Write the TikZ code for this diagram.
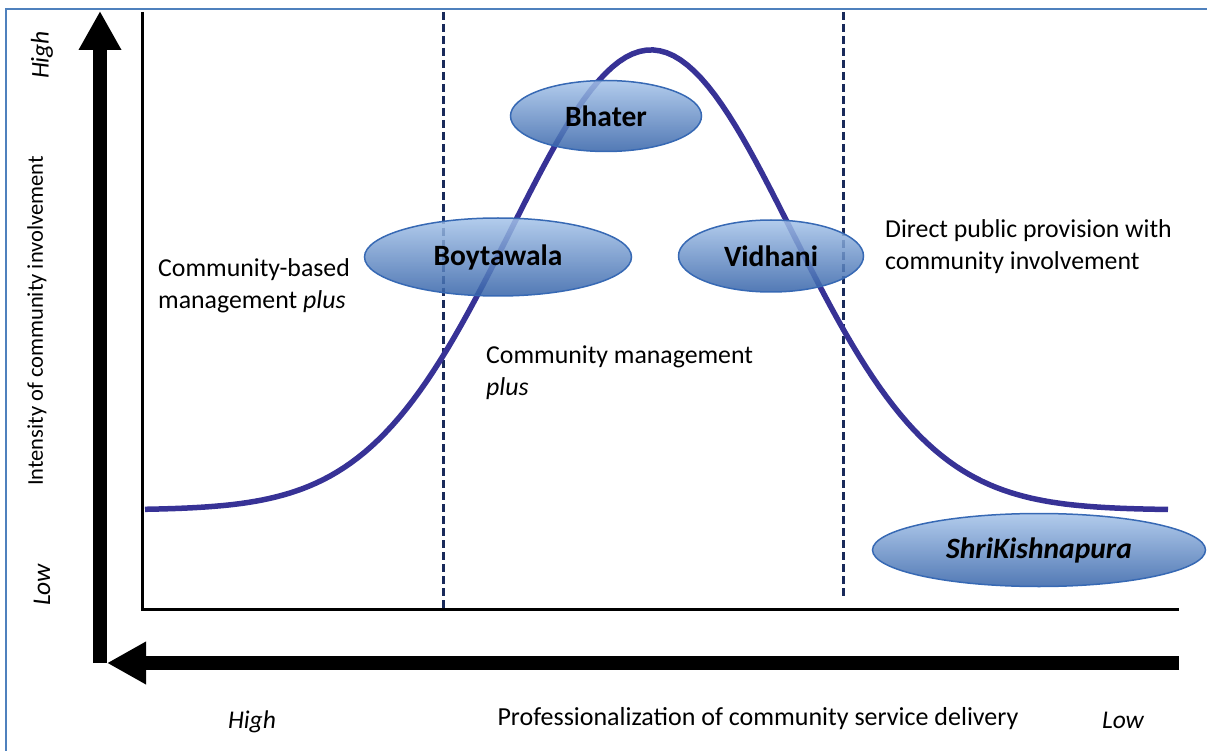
\documentclass[tikz,border=0pt]{standalone}
\usepackage{fontspec}
\setmainfont{Carlito}
\usetikzlibrary{arrows.meta,positioning,shapes.geometric}
\definecolor{framebl}{RGB}{79,129,189}
\definecolor{curvebl}{RGB}{55,50,150}
\definecolor{dashbl}{RGB}{25,42,90}
\definecolor{elltop}{RGB}{165,195,233}
\definecolor{ellbot}{RGB}{52,98,168}
\definecolor{elledge}{RGB}{55,105,180}

\begin{document}
\begin{tikzpicture}[x=1pt, y=-1pt,
    bigarrow/.style={line width=14pt, -{Triangle[width=40pt, length=39pt]}},
    divider/.style={dashbl, line width=3pt, dash pattern=on 8pt off 4pt},
    bell/.style={curvebl, line width=5.5pt},
    site/.style={ellipse, draw=elledge, line width=1.5pt, top color=elltop, bottom color=ellbot,
        fill opacity=0.85, text opacity=1, inner sep=0pt, font=\fontsize{29.5}{32}\selectfont\bfseries},
    note/.style={align=left, anchor=west, inner sep=0pt, font=\fontsize{25.8}{32}\selectfont},
    axistitle/.style={inner sep=0pt, font=\fontsize{26}{30}\selectfont},
    axisend/.style={inner sep=0pt, font=\fontsize{25.5}{30}\selectfont\itshape}]
    \useasboundingbox (0,0) rectangle (1207,751);
    \draw[framebl, line width=2.5pt] (6,751) -- (6,9) -- (1207,9);

    \coordinate (corner) at (100,663);
    \coordinate (ytip) at (100,11);
    \coordinate (xend) at (1179,663);
    \coordinate (xtip) at (107,663);
    \draw[bigarrow] (corner) -- (ytip);
    \draw[bigarrow] (xend) -- (xtip);

    \coordinate (ptop) at (142,12);
    \coordinate (porigin) at (142,609);
    \coordinate (pright) at (1179,609);
    \draw[line width=3pt] (ptop) -- (porigin) -- (pright);

    \draw[divider] (443,12) -- (443,609);
    \draw[divider] (843,12) -- (843,598);

    \draw[bell] plot[domain=145:1168, samples=150] (\x, {510-460*exp(-0.5*((\x-651)/140.6)^2)});

    \node[site, minimum width=191pt, minimum height=71pt] (bhater) at (606,116) {Bhater};
    \node[site, minimum width=267pt, minimum height=78pt] (boytawala) at (498,257) {Boytawala};
    \node[site, minimum width=185pt, minimum height=72pt] (vidhani) at (771,256) {Vidhani};
    \node[site, minimum width=333pt, minimum height=73pt] (shri) at (1039,550) {\itshape ShriKishnapura};

    \node[note] (cbm) at (158,286) {Community-based\\management \textit{plus}};
    \node[note] (cm) at (486,373) {Community management\\\textit{plus}};
    \node[note] (dpp) at (885,247) {Direct public provision with\\community involvement};

    \node[axistitle] (xtitle) at (758,719) {Professionalization of community service delivery};
    \node[axisend] (xhigh) at (252,722) {High};
    \node[axisend] (xlow) at (1123,720) {Low};
    \node[axistitle, rotate=90, font=\fontsize{22.5}{26}\selectfont] (ytitle) at (37,321) {Intensity of community involvement};
    \node[axisend, rotate=90] (yhigh) at (42,55) {High};
    \node[axisend, rotate=90] (ylow) at (42,585) {Low};
\end{tikzpicture}
\end{document}
